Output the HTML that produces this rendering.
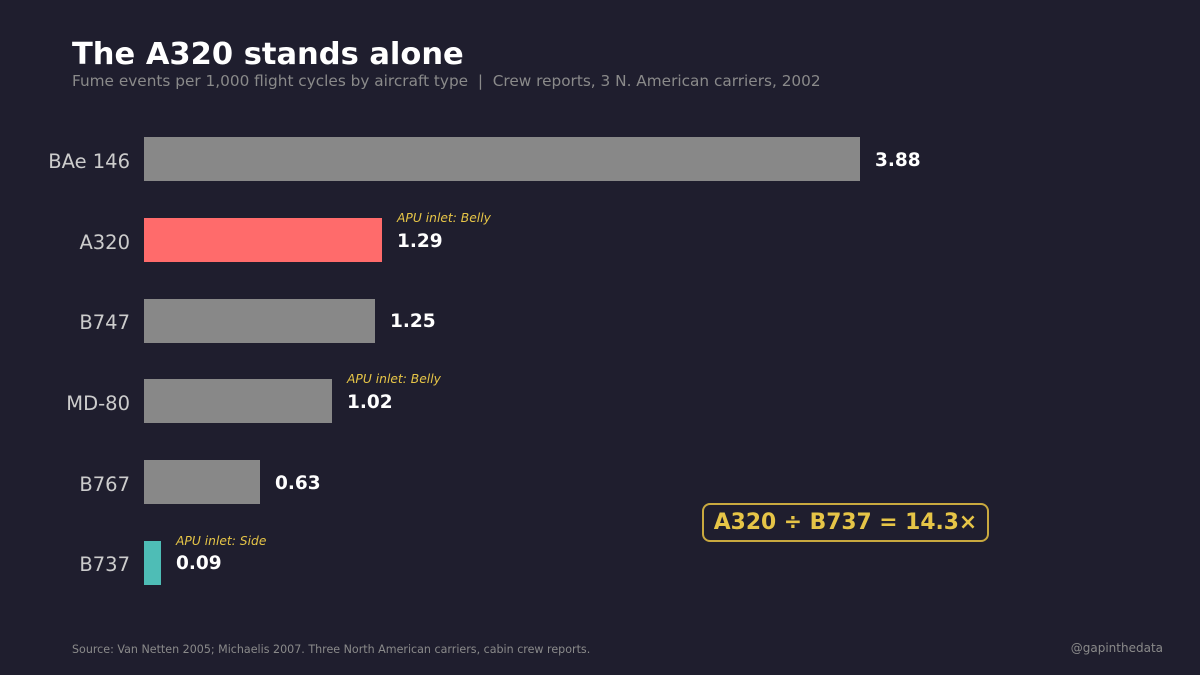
<!DOCTYPE html>
<html><head><meta charset="utf-8"><style>
body{margin:0;width:1200px;height:675px;background:#1f1e2e;font-family:"DejaVu Sans","Liberation Sans",sans-serif;position:relative;overflow:hidden}
div{position:absolute;white-space:nowrap}
.bar{left:144px;height:44px}
.lab{right:1070px;font-size:19.5px;color:#cccccc;line-height:24px}
.val{font-size:18.5px;font-weight:bold;color:#fff;line-height:22px}
.ann{font-size:12.3px;font-style:italic;color:#e6c547;line-height:14px}
</style></head><body>
<div style="left:72px;top:37px;font-size:30.5px;font-weight:bold;color:#fff">The A320 stands alone</div>
<div style="left:72px;top:72px;font-size:15.3px;color:#8a8a8a">Fume events per 1,000 flight cycles by aircraft type &nbsp;|&nbsp; Crew reports, 3 N. American carriers, 2002</div>

<div class="bar" style="top:137px;width:716px;background:#888"></div>
<div class="lab" style="top:150px">BAe 146</div>
<div class="val" style="left:875px;top:150px">3.88</div>

<div class="bar" style="top:218px;width:238px;background:#ff6b6b"></div>
<div class="lab" style="top:231px">A320</div>
<div class="ann" style="left:397px;top:211px">APU inlet: Belly</div>
<div class="val" style="left:397px;top:231px">1.29</div>

<div class="bar" style="top:299px;width:231px;background:#888"></div>
<div class="lab" style="top:311px">B747</div>
<div class="val" style="left:390px;top:311px">1.25</div>

<div class="bar" style="top:379px;width:188px;background:#888"></div>
<div class="lab" style="top:392px">MD-80</div>
<div class="ann" style="left:347px;top:372px">APU inlet: Belly</div>
<div class="val" style="left:347px;top:392px">1.02</div>

<div class="bar" style="top:460px;width:116px;background:#888"></div>
<div class="lab" style="top:473px">B767</div>
<div class="val" style="left:275px;top:473px">0.63</div>

<div class="bar" style="top:541px;width:17px;background:#4ebdb6"></div>
<div class="lab" style="top:553px">B737</div>
<div class="ann" style="left:176px;top:534px">APU inlet: Side</div>
<div class="val" style="left:176px;top:553px">0.09</div>

<div style="left:702px;top:503px;width:283px;height:35px;border:2px solid #c9a93f;border-radius:8px;color:#e6c547;font-size:21.8px;font-weight:bold;line-height:36px;text-align:center">A320 ÷ B737 = 14.3×</div>

<div style="left:72px;top:643px;font-size:11.1px;color:#8a8a8a">Source: Van Netten 2005; Michaelis 2007. Three North American carriers, cabin crew reports.</div>
<div style="right:37px;top:641px;font-size:12px;color:#8a8a8a">@gapinthedata</div>
</body></html>
